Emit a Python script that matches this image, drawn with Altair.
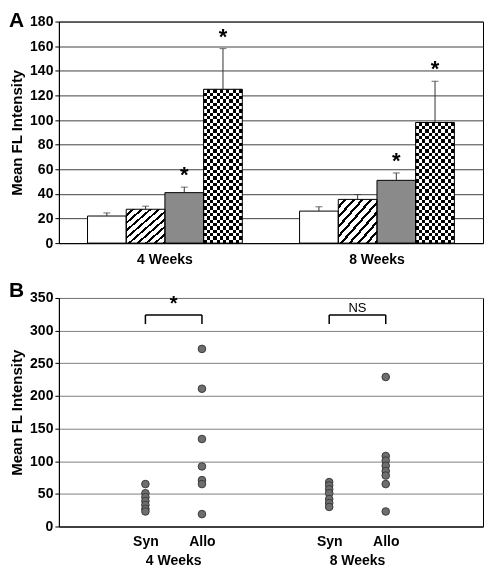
import altair as alt
import pandas as pd

# ---------------- Panel A data ----------------
weeks = ["4 Weeks", "8 Weeks"]
groups = ["g1", "g2", "g3", "g4"]
means_4 = [22, 27.5, 41, 125]
errs_4 = [24.5, 30, 45.5, 158]
means_8 = [26, 35.5, 51, 98]
errs_8 = [29.5, 39.5, 57, 131.5]
stars_4 = [0, 0, 1, 1]
stars_8 = [0, 0, 1, 1]

# ---------------- Panel B data ----------------
syn_4 = [65, 51, 45, 39, 33, 27, 23]
allo_4 = [272, 211, 134, 92, 71, 65, 19]
syn_8 = [68, 63, 57, 51, 42, 36, 30]
allo_8 = [229, 108, 101, 93, 85, 78, 65, 23]
cat_pos = {"4 Weeks": {"Syn": 1.5, "Allo": 2.5}, "8 Weeks": {"Syn": 4.75, "Allo": 5.75}}
sig_labels = ["*", "NS"]
bracket_top = [324, 324]
bracket_bottom = [310, 310]

FONT = "Liberation Sans"

rows = []
for w, ms, es, st in [("4 Weeks", means_4, errs_4, stars_4), ("8 Weeks", means_8, errs_8, stars_8)]:
    for g, m, e, s in zip(groups, ms, es, st):
        rows.append({"week": w, "group": g, "mean": m, "err": e, "star": s})
df_a = pd.DataFrame(rows)


def stripes(n, c1, c2, frac=0.5, x2=1, y2=0):
    stops = []
    for i in range(n):
        a = i / n
        b = (i + frac) / n
        c = (i + 1) / n
        stops += [
            {"offset": a, "color": c1},
            {"offset": b, "color": c1},
            {"offset": b, "color": c2},
            {"offset": c, "color": c2},
        ]
    return {"gradient": "linear", "stops": stops, "x1": 0, "y1": 0, "x2": x2, "y2": y2}


HA, WA = 222, 425
px_per_unit = HA / 180.0
PERIOD = 6.6
LEFT = -50

ytitle = "Mean FL Intensity"
yscale_a = alt.Scale(domain=[0, 180], nice=False)
yaxis_a = alt.Axis(values=list(range(0, 181, 20)), gridColor="#404040", grid=True,
                   titleFontSize=15, titlePadding=5, labelOverlap=False)


def ya(field):
    return alt.Y(field, title=ytitle, scale=yscale_a, axis=yaxis_a)


base_a = alt.Chart(df_a).encode(
    x=alt.X("week:N", sort=weeks, title=None,
            scale=alt.Scale(paddingInner=0.27, paddingOuter=0.135),
            axis=alt.Axis(labelAngle=0, ticks=False, labelPadding=9, grid=False)),
    xOffset=alt.XOffset("group:N", sort=groups, scale=alt.Scale(paddingInner=0, paddingOuter=0)),
    y=ya("mean:Q"),
)

white = base_a.transform_filter("datum.group == 'g1'").mark_bar(fill="white")
hatch = base_a.transform_filter("datum.group == 'g2'").mark_bar(
    fill=stripes(9, "white", "black", frac=0.66, x2=1, y2=1))
gray = base_a.transform_filter("datum.group == 'g3'").mark_bar(fill="#8a8a8a")
chk_v = base_a.transform_filter("datum.group == 'g4'").mark_bar(
    fill=stripes(6, "black", "white", x2=1, y2=0))
chk_layers = []
for w, ms in [("4 Weeks", means_4), ("8 Weeks", means_8)]:
    nrows = int(round(ms[3] * px_per_unit / PERIOD))
    chk_layers.append(
        base_a.transform_filter(f"datum.group == 'g4' && datum.week == '{w}'").mark_bar(
            fill=stripes(nrows, "white", "black", x2=0, y2=1), blend="difference")
    )
outline = base_a.mark_bar(fill="white", fillOpacity=0, stroke="black", strokeWidth=1)
err_rule = base_a.mark_rule(color="#333333", strokeWidth=1).encode(y2="err:Q")
err_cap = base_a.mark_tick(color="#333333", size=7, thickness=1, orient="horizontal").encode(
    y=ya("err:Q"))
star_a = base_a.transform_filter("datum.star == 1").mark_text(
    text="*", fontSize=22, fontWeight="bold", baseline="middle", dy=-12, color="black").encode(
    y=ya("err:Q"))
letter_a = alt.Chart(pd.DataFrame({"t": ["A"]})).mark_text(
    fontSize=21, fontWeight="bold", align="left", baseline="alphabetic", color="black").encode(
    x=alt.value(LEFT), y=alt.value(5), text="t:N")

panel_a = alt.layer(white, hatch, gray, chk_v, *chk_layers, outline, err_rule, err_cap, star_a,
                    letter_a).properties(width=WA, height=HA)

# ---------------- Panel B ----------------
rows_b = []
for w, s_vals, a_vals in [("4 Weeks", syn_4, allo_4), ("8 Weeks", syn_8, allo_8)]:
    for v in s_vals:
        rows_b.append({"week": w, "grp": "Syn", "pos": cat_pos[w]["Syn"], "value": v})
    for v in a_vals:
        rows_b.append({"week": w, "grp": "Allo", "pos": cat_pos[w]["Allo"], "value": v})
df_b = pd.DataFrame(rows_b)

tick_vals = []
tick_labs = []
for w in weeks:
    for g in ["Syn", "Allo"]:
        tick_vals.append(cat_pos[w][g])
        tick_labs.append(g)
label_expr = ""
for v, l in zip(tick_vals, tick_labs):
    label_expr += f"datum.value == {v} ? '{l}' : "
label_expr += "''"

df_wk = pd.DataFrame({
    "week": weeks,
    "center": [(cat_pos[w]["Syn"] + cat_pos[w]["Allo"]) / 2 for w in weeks],
    "left": [cat_pos[w]["Syn"] for w in weeks],
    "right": [cat_pos[w]["Allo"] for w in weeks],
    "top": bracket_top,
    "bottom": bracket_bottom,
    "sig": sig_labels,
})
df_legs = pd.DataFrame({
    "pos": [cat_pos[w][g] for w in weeks for g in ["Syn", "Allo"]],
    "top": [t for t in bracket_top for _ in range(2)],
    "bottom": [b for b in bracket_bottom for _ in range(2)],
})

HB = 229
xscale_b = alt.Scale(domain=[-0.03, 7.47], nice=False, zero=False)
xaxis_b = alt.Axis(values=tick_vals, labelExpr=label_expr, ticks=False, grid=False,
                   labelPadding=8, labelOverlap=False, labelFlush=False)
yscale_b = alt.Scale(domain=[0, 350], nice=False)
yaxis_b = alt.Axis(values=list(range(0, 351, 50)), gridColor="#808080", grid=True,
                   titleFontSize=15, titlePadding=5, labelOverlap=False)


def xb(field):
    return alt.X(field, title=None, scale=xscale_b, axis=xaxis_b)


def yb(field):
    return alt.Y(field, title=ytitle, scale=yscale_b, axis=yaxis_b)


points = alt.Chart(df_b).mark_circle(size=58, fill="#6e6e6e", stroke="#3a3a3a",
                                     strokeWidth=1, opacity=1).encode(
    x=xb("pos:Q"), y=yb("value:Q"))
br_h = alt.Chart(df_wk).mark_rule(color="black", strokeWidth=1.5).encode(
    x=xb("left:Q"), x2="right:Q", y=yb("top:Q"))
br_v = alt.Chart(df_legs).mark_rule(color="black", strokeWidth=1.5).encode(
    x=xb("pos:Q"), y=yb("top:Q"), y2="bottom:Q")
star_b = alt.Chart(df_wk).transform_filter("datum.sig == '*'").mark_text(
    fontSize=20, fontWeight="bold", baseline="middle", dy=-11, color="black").encode(
    x=xb("center:Q"), y=yb("top:Q"), text="sig:N")
ns_b = alt.Chart(df_wk).transform_filter("datum.sig != '*'").mark_text(
    fontSize=13, baseline="middle", dy=-7, color="black").encode(
    x=xb("center:Q"), y=yb("top:Q"), text="sig:N")
wk_lab = alt.Chart(df_wk).mark_text(fontSize=14, fontWeight="bold", baseline="middle",
                                    color="black").encode(
    x=xb("center:Q"), y=alt.value(HB + 35), text="week:N")
letter_b = alt.Chart(pd.DataFrame({"t": ["B"]})).mark_text(
    fontSize=21, fontWeight="bold", align="left", baseline="alphabetic", color="black").encode(
    x=alt.value(LEFT), y=alt.value(-1), text="t:N")

panel_b = alt.layer(points, br_h, br_v, star_b, ns_b, wk_lab, letter_b).properties(
    width=WA, height=HB)

chart = alt.vconcat(panel_a, panel_b, spacing=12).properties(padding=0).configure(
    font=FONT
).configure_view(
    stroke="black", strokeWidth=1
).configure_axis(
    labelFont=FONT, titleFont=FONT, labelFontSize=14, labelFontWeight="bold",
    labelColor="black", titleColor="black", titleFontWeight="bold",
    domainColor="black", tickColor="black", tickSize=4, labelPadding=2,
    gridWidth=1
)

chart.save("out.html", embed_options={"renderer": "svg", "actions": False})
